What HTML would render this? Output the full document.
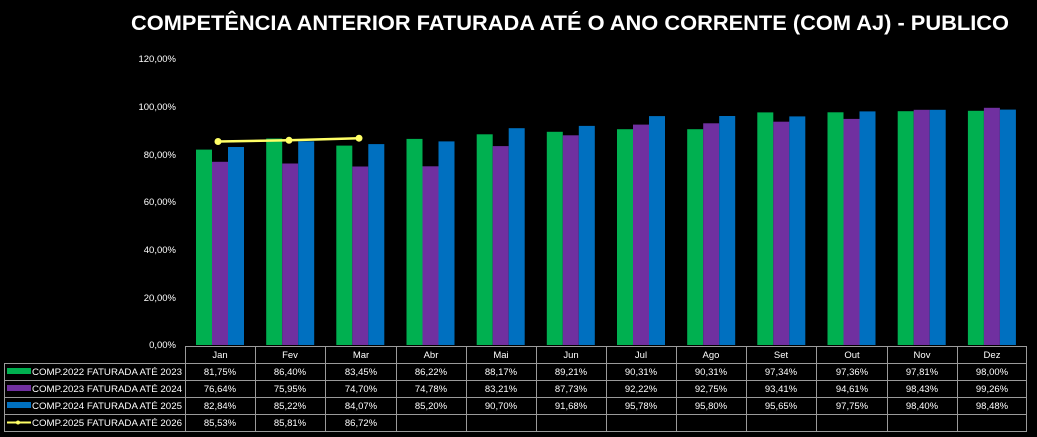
<!DOCTYPE html>
<html><head><meta charset="utf-8"><style>
html,body{margin:0;padding:0;background:#000;}
svg{display:block;font-family:"Liberation Sans",sans-serif;}
</style></head><body>
<svg width="1037" height="437" viewBox="0 0 1037 437" xmlns="http://www.w3.org/2000/svg">
<rect width="1037" height="437" fill="#000"/>
<text x="570" y="30" fill="#fff" font-size="21" font-weight="bold" text-anchor="middle" textLength="878" lengthAdjust="spacingAndGlyphs">COMPETÊNCIA ANTERIOR FATURADA ATÉ O ANO CORRENTE (COM AJ) - PUBLICO</text>
<g fill="#fff" font-size="9.5" text-anchor="end">
<text x="176" y="348">0,00%</text>
<text x="176" y="301">20,00%</text>
<text x="176" y="253">40,00%</text>
<text x="176" y="205">60,00%</text>
<text x="176" y="158">80,00%</text>
<text x="176" y="110">100,00%</text>
<text x="176" y="62">120,00%</text>
</g>
<g fill="#00B050">
<rect x="196.0" y="149.6" width="16" height="195.4"/>
<rect x="266.2" y="138.5" width="16" height="206.5"/>
<rect x="336.3" y="145.6" width="16" height="199.4"/>
<rect x="406.5" y="138.9" width="16" height="206.1"/>
<rect x="476.7" y="134.3" width="16" height="210.7"/>
<rect x="546.8" y="131.8" width="16" height="213.2"/>
<rect x="617.0" y="129.2" width="16" height="215.8"/>
<rect x="687.2" y="129.2" width="16" height="215.8"/>
<rect x="757.3" y="112.4" width="16" height="232.6"/>
<rect x="827.5" y="112.3" width="16" height="232.7"/>
<rect x="897.7" y="111.2" width="16" height="233.8"/>
<rect x="967.9" y="110.8" width="16" height="234.2"/>
</g>
<g fill="#7030A0">
<rect x="212.0" y="161.8" width="16" height="183.2"/>
<rect x="282.2" y="163.5" width="16" height="181.5"/>
<rect x="352.3" y="166.5" width="16" height="178.5"/>
<rect x="422.5" y="166.3" width="16" height="178.7"/>
<rect x="492.7" y="146.1" width="16" height="198.9"/>
<rect x="562.8" y="135.3" width="16" height="209.7"/>
<rect x="633.0" y="124.6" width="16" height="220.4"/>
<rect x="703.2" y="123.3" width="16" height="221.7"/>
<rect x="773.3" y="121.7" width="16" height="223.3"/>
<rect x="843.5" y="118.9" width="16" height="226.1"/>
<rect x="913.7" y="109.8" width="16" height="235.2"/>
<rect x="983.9" y="107.8" width="16" height="237.2"/>
</g>
<g fill="#0070C0">
<rect x="228.0" y="147.0" width="16" height="198.0"/>
<rect x="298.2" y="141.3" width="16" height="203.7"/>
<rect x="368.3" y="144.1" width="16" height="200.9"/>
<rect x="438.5" y="141.4" width="16" height="203.6"/>
<rect x="508.7" y="128.2" width="16" height="216.8"/>
<rect x="578.8" y="125.9" width="16" height="219.1"/>
<rect x="649.0" y="116.1" width="16" height="228.9"/>
<rect x="719.2" y="116.0" width="16" height="229.0"/>
<rect x="789.3" y="116.4" width="16" height="228.6"/>
<rect x="859.5" y="111.4" width="16" height="233.6"/>
<rect x="929.7" y="109.8" width="16" height="235.2"/>
<rect x="999.9" y="109.6" width="16" height="235.4"/>
</g>
<polyline points="218,141.5 289,140.3 359,138.2" fill="none" stroke="#FFFF66" stroke-width="2.5"/>
<g fill="#FFFF66"><circle cx="218" cy="141.5" r="3.5"/><circle cx="289" cy="140.3" r="3.5"/><circle cx="359" cy="138.2" r="3.5"/></g>
<!-- table -->
<g stroke="#9a9a9a" stroke-width="1" fill="none">
<line x1="185" y1="346.5" x2="1027" y2="346.5"/>
<line x1="4" y1="363.5" x2="1027" y2="363.5"/>
<line x1="4" y1="380.5" x2="1027" y2="380.5"/>
<line x1="4" y1="397.5" x2="1027" y2="397.5"/>
<line x1="4" y1="414.5" x2="1027" y2="414.5"/>
<line x1="4" y1="431.5" x2="1027" y2="431.5"/>
<line x1="4.5" y1="363" x2="4.5" y2="432"/>
<line x1="185.5" y1="346" x2="185.5" y2="432"/>
<line x1="255.5" y1="346" x2="255.5" y2="432"/>
<line x1="325.5" y1="346" x2="325.5" y2="432"/>
<line x1="396.5" y1="346" x2="396.5" y2="432"/>
<line x1="466.5" y1="346" x2="466.5" y2="432"/>
<line x1="536.5" y1="346" x2="536.5" y2="432"/>
<line x1="606.5" y1="346" x2="606.5" y2="432"/>
<line x1="676.5" y1="346" x2="676.5" y2="432"/>
<line x1="746.5" y1="346" x2="746.5" y2="432"/>
<line x1="816.5" y1="346" x2="816.5" y2="432"/>
<line x1="887.5" y1="346" x2="887.5" y2="432"/>
<line x1="957.5" y1="346" x2="957.5" y2="432"/>
<line x1="1026.5" y1="346" x2="1026.5" y2="432"/>
</g>
<rect x="7" y="368" width="24" height="6" fill="#00B050"/>
<rect x="7" y="385" width="24" height="6" fill="#7030A0"/>
<rect x="7" y="402" width="24" height="6" fill="#0070C0"/>
<line x1="7" y1="422.5" x2="31" y2="422.5" stroke="#FFFF66" stroke-width="2"/>
<circle cx="18" cy="422.5" r="2" fill="#FFFF66"/>
<g fill="#fff" font-size="9.5">
<text x="32" y="375" textLength="150" lengthAdjust="spacingAndGlyphs">COMP.2022 FATURADA ATÉ  2023</text>
<text x="32" y="392" textLength="150" lengthAdjust="spacingAndGlyphs">COMP.2023 FATURADA ATÉ  2024</text>
<text x="32" y="409" textLength="150" lengthAdjust="spacingAndGlyphs">COMP.2024 FATURADA ATÉ  2025</text>
<text x="32" y="426" textLength="150" lengthAdjust="spacingAndGlyphs">COMP.2025 FATURADA ATÉ  2026</text>
</g>
<g fill="#fff" font-size="9.5" text-anchor="middle">
<text x="220" y="358">Jan</text><text x="290" y="358">Fev</text><text x="361" y="358">Mar</text><text x="431" y="358">Abr</text><text x="501" y="358">Mai</text><text x="571" y="358">Jun</text><text x="641" y="358">Jul</text><text x="711" y="358">Ago</text><text x="781" y="358">Set</text><text x="852" y="358">Out</text><text x="922" y="358">Nov</text><text x="992" y="358">Dez</text>
<text x="220" y="375">81,75%</text><text x="290" y="375">86,40%</text><text x="361" y="375">83,45%</text><text x="431" y="375">86,22%</text><text x="501" y="375">88,17%</text><text x="571" y="375">89,21%</text><text x="641" y="375">90,31%</text><text x="711" y="375">90,31%</text><text x="781" y="375">97,34%</text><text x="852" y="375">97,36%</text><text x="922" y="375">97,81%</text><text x="992" y="375">98,00%</text>
<text x="220" y="392">76,64%</text><text x="290" y="392">75,95%</text><text x="361" y="392">74,70%</text><text x="431" y="392">74,78%</text><text x="501" y="392">83,21%</text><text x="571" y="392">87,73%</text><text x="641" y="392">92,22%</text><text x="711" y="392">92,75%</text><text x="781" y="392">93,41%</text><text x="852" y="392">94,61%</text><text x="922" y="392">98,43%</text><text x="992" y="392">99,26%</text>
<text x="220" y="409">82,84%</text><text x="290" y="409">85,22%</text><text x="361" y="409">84,07%</text><text x="431" y="409">85,20%</text><text x="501" y="409">90,70%</text><text x="571" y="409">91,68%</text><text x="641" y="409">95,78%</text><text x="711" y="409">95,80%</text><text x="781" y="409">95,65%</text><text x="852" y="409">97,75%</text><text x="922" y="409">98,40%</text><text x="992" y="409">98,48%</text>
<text x="220" y="426">85,53%</text><text x="290" y="426">85,81%</text><text x="361" y="426">86,72%</text>
</g>
</svg>
</body></html>
